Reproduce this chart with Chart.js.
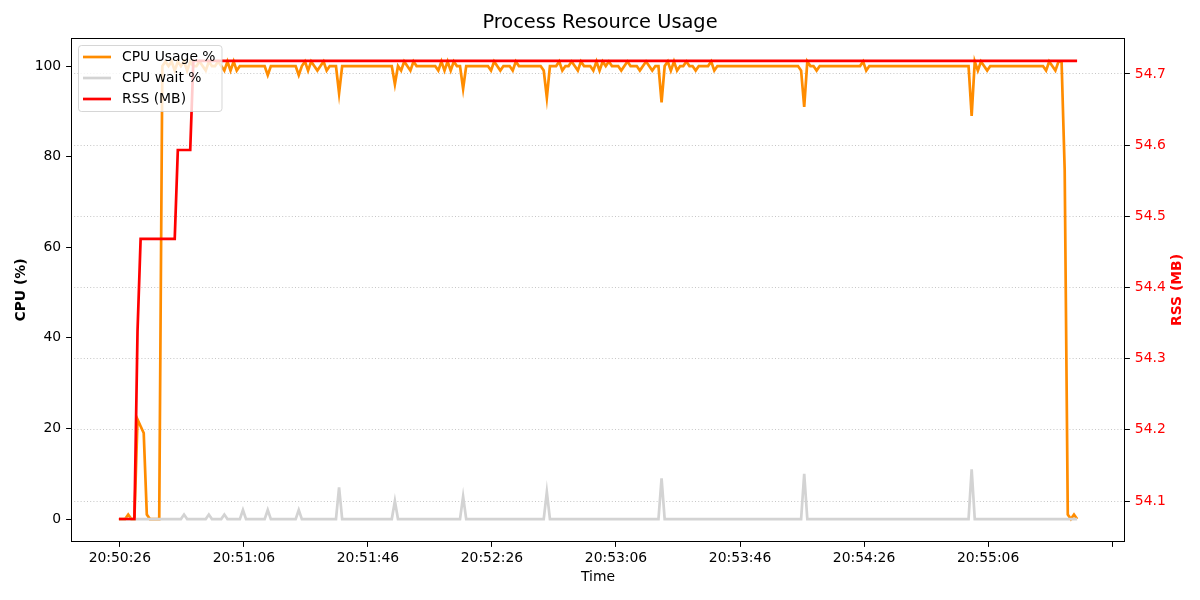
<!DOCTYPE html>
<html>
<head>
<meta charset="utf-8">
<script src="https://cdn.jsdelivr.net/npm/chart.js@4.4.0/dist/chart.umd.min.js"></script>
<style>
html,body{margin:0;padding:0;background:#fff;}
#wrap{width:1200px;height:600px;position:relative;}
</style>
</head>
<body>
<div id="wrap"><canvas id="c" width="1200" height="600"></canvas></div>
<script>
// ---------------- DATA ----------------
const chartTitle = 'Process Resource Usage';
const seriesLabels = ['CPU Usage %', 'CPU wait %', 'RSS (MB)'];

// sampling: one sample per second, first sample ~0.3 s before 20:50:26
const firstSampleSec = -0.3;
const sampleStepSec = 1;

// x-axis ticks (seconds after 20:50:26) and their labels
const timeTickSeconds = [0, 40, 80, 120, 160, 200, 240, 280, 320];
const timeLabels = ['20:50:26', '20:51:06', '20:51:46', '20:52:26', '20:53:06', '20:53:46', '20:54:26', '20:55:06', ''];

const cpuTicks = [0, 20, 40, 60, 80, 100];
const rssTicks = [54.1, 54.2, 54.3, 54.4, 54.5, 54.6, 54.7];

const cpu = [
  0,0,0,1,0,0,22,20.5,19,1,
  0,0,0,0,100,101,100,101,99,101,
  100,101,99,101,100,100,101,100,99,101,
  100,100,101,100,99,101,99,101,99,100,
  100,100,100,100,100,100,100,100,98,100,
  100,100,100,100,100,100,100,100,98,100,
  101,99,101,100,99,100,101,99,100,100,
  100,94,100,100,100,100,100,100,100,100,
  100,100,100,100,100,100,100,100,100,96,
  100,99,101,100,99,101,100,100,100,100,
  100,100,100,99,101,99,101,99,101,100,
  100,95,100,100,100,100,100,100,100,100,
  99,101,100,99,100,100,100,99,101,100,
  100,100,100,100,100,100,100,99,93,100,
  100,100,101,99,100,100,101,100,99,101,
  100,100,100,99,101,99,101,100,101,100,
  100,100,99,100,101,100,100,100,99,100,
  101,100,99,100,100,92,100,101,99,101,
  99,100,100,101,100,100,99,100,100,100,
  100,101,99,100,100,100,100,100,100,100,
  100,100,100,100,100,100,100,100,100,100,
  100,100,100,100,100,100,100,100,100,100,
  99,91,101,100,100,99,100,100,100,100,
  100,100,100,100,100,100,100,100,100,100,
  101,99,100,100,100,100,100,100,100,100,
  100,100,100,100,100,100,100,100,100,100,
  100,100,100,100,100,100,100,100,100,100,
  100,100,100,100,100,89,101,99,101,100,
  99,100,100,100,100,100,100,100,100,100,
  100,100,100,100,100,100,100,100,100,99,
  101,100,99,101,101,77,1,0,1,0
];

const cpuWait = [
  0,0,0,0,0,0,0,0,0,0,
  0,0,0,0,0,0,0,0,0,0,
  0,1,0,0,0,0,0,0,0,1,
  0,0,0,0,1,0,0,0,0,0,
  2,0,0,0,0,0,0,0,2,0,
  0,0,0,0,0,0,0,0,2,0,
  0,0,0,0,0,0,0,0,0,0,
  0,7,0,0,0,0,0,0,0,0,
  0,0,0,0,0,0,0,0,0,4,
  0,0,0,0,0,0,0,0,0,0,
  0,0,0,0,0,0,0,0,0,0,
  0,5,0,0,0,0,0,0,0,0,
  0,0,0,0,0,0,0,0,0,0,
  0,0,0,0,0,0,0,0,6,0,
  0,0,0,0,0,0,0,0,0,0,
  0,0,0,0,0,0,0,0,0,0,
  0,0,0,0,0,0,0,0,0,0,
  0,0,0,0,0,9,0,0,0,0,
  0,0,0,0,0,0,0,0,0,0,
  0,0,0,0,0,0,0,0,0,0,
  0,0,0,0,0,0,0,0,0,0,
  0,0,0,0,0,0,0,0,0,0,
  0,10,0,0,0,0,0,0,0,0,
  0,0,0,0,0,0,0,0,0,0,
  0,0,0,0,0,0,0,0,0,0,
  0,0,0,0,0,0,0,0,0,0,
  0,0,0,0,0,0,0,0,0,0,
  0,0,0,0,0,11,0,0,0,0,
  0,0,0,0,0,0,0,0,0,0,
  0,0,0,0,0,0,0,0,0,0,
  0,0,0,0,0,0,0,0,0,0
];

const rss = [
  54.0747,54.0747,54.0747,54.0747,54.0747,54.0747,54.338,54.4682,54.4682,54.4682,
  54.4682,54.4682,54.4682,54.4682,54.4682,54.4682,54.4682,54.4682,54.4682,54.5932,
  54.5932,54.5932,54.5932,54.5932,54.7183,54.7183,54.7183,54.7183,54.7183,54.7183,
  54.7183,54.7183,54.7183,54.7183,54.7183,54.7183,54.7183,54.7183,54.7183,54.7183,
  54.7183,54.7183,54.7183,54.7183,54.7183,54.7183,54.7183,54.7183,54.7183,54.7183,
  54.7183,54.7183,54.7183,54.7183,54.7183,54.7183,54.7183,54.7183,54.7183,54.7183,
  54.7183,54.7183,54.7183,54.7183,54.7183,54.7183,54.7183,54.7183,54.7183,54.7183,
  54.7183,54.7183,54.7183,54.7183,54.7183,54.7183,54.7183,54.7183,54.7183,54.7183,
  54.7183,54.7183,54.7183,54.7183,54.7183,54.7183,54.7183,54.7183,54.7183,54.7183,
  54.7183,54.7183,54.7183,54.7183,54.7183,54.7183,54.7183,54.7183,54.7183,54.7183,
  54.7183,54.7183,54.7183,54.7183,54.7183,54.7183,54.7183,54.7183,54.7183,54.7183,
  54.7183,54.7183,54.7183,54.7183,54.7183,54.7183,54.7183,54.7183,54.7183,54.7183,
  54.7183,54.7183,54.7183,54.7183,54.7183,54.7183,54.7183,54.7183,54.7183,54.7183,
  54.7183,54.7183,54.7183,54.7183,54.7183,54.7183,54.7183,54.7183,54.7183,54.7183,
  54.7183,54.7183,54.7183,54.7183,54.7183,54.7183,54.7183,54.7183,54.7183,54.7183,
  54.7183,54.7183,54.7183,54.7183,54.7183,54.7183,54.7183,54.7183,54.7183,54.7183,
  54.7183,54.7183,54.7183,54.7183,54.7183,54.7183,54.7183,54.7183,54.7183,54.7183,
  54.7183,54.7183,54.7183,54.7183,54.7183,54.7183,54.7183,54.7183,54.7183,54.7183,
  54.7183,54.7183,54.7183,54.7183,54.7183,54.7183,54.7183,54.7183,54.7183,54.7183,
  54.7183,54.7183,54.7183,54.7183,54.7183,54.7183,54.7183,54.7183,54.7183,54.7183,
  54.7183,54.7183,54.7183,54.7183,54.7183,54.7183,54.7183,54.7183,54.7183,54.7183,
  54.7183,54.7183,54.7183,54.7183,54.7183,54.7183,54.7183,54.7183,54.7183,54.7183,
  54.7183,54.7183,54.7183,54.7183,54.7183,54.7183,54.7183,54.7183,54.7183,54.7183,
  54.7183,54.7183,54.7183,54.7183,54.7183,54.7183,54.7183,54.7183,54.7183,54.7183,
  54.7183,54.7183,54.7183,54.7183,54.7183,54.7183,54.7183,54.7183,54.7183,54.7183,
  54.7183,54.7183,54.7183,54.7183,54.7183,54.7183,54.7183,54.7183,54.7183,54.7183,
  54.7183,54.7183,54.7183,54.7183,54.7183,54.7183,54.7183,54.7183,54.7183,54.7183,
  54.7183,54.7183,54.7183,54.7183,54.7183,54.7183,54.7183,54.7183,54.7183,54.7183,
  54.7183,54.7183,54.7183,54.7183,54.7183,54.7183,54.7183,54.7183,54.7183,54.7183,
  54.7183,54.7183,54.7183,54.7183,54.7183,54.7183,54.7183,54.7183,54.7183,54.7183,
  54.7183,54.7183,54.7183,54.7183,54.7183,54.7183,54.7183,54.7183,54.7183,54.7183
];

// ---------------- CHART ----------------
const FONT = "'DejaVu Sans', sans-serif";
Chart.defaults.font.family = FONT;
Chart.defaults.font.size = 13.9;
Chart.defaults.color = '#000';

const xs = cpu.map((_, i) => firstSampleSec + i * sampleStepSec);
const toPts = arr => arr.map((v, i) => ({ x: xs[i], y: v }));

const colors = ['#ff8c00', '#d3d3d3', '#ff0000'];

const overlay = {
  id: 'overlay',
  afterDraw(chart) {
    const ctx = chart.ctx;
    const a = chart.chartArea;
    ctx.save();
    // frame
    ctx.strokeStyle = '#000';
    ctx.lineWidth = 1;
    ctx.strokeRect(Math.round(a.left) + 0.5, Math.round(a.top) + 0.5,
                   Math.round(a.right - a.left) - 1, Math.round(a.bottom - a.top) - 1);
    // right axis title
    ctx.save();
    ctx.translate(1177, (a.top + a.bottom) / 2);
    ctx.rotate(-Math.PI / 2);
    ctx.fillStyle = '#ff0000';
    ctx.font = 'bold 13.9px ' + FONT;
    ctx.textAlign = 'center';
    ctx.textBaseline = 'middle';
    ctx.fillText(seriesLabels[2], 0, 0);
    ctx.restore();
    // legend
    const bx = 78.5, by = 45.5, bw = 143.5, bh = 66, r = 3;
    ctx.beginPath();
    ctx.moveTo(bx + r, by);
    ctx.lineTo(bx + bw - r, by);
    ctx.quadraticCurveTo(bx + bw, by, bx + bw, by + r);
    ctx.lineTo(bx + bw, by + bh - r);
    ctx.quadraticCurveTo(bx + bw, by + bh, bx + bw - r, by + bh);
    ctx.lineTo(bx + r, by + bh);
    ctx.quadraticCurveTo(bx, by + bh, bx, by + bh - r);
    ctx.lineTo(bx, by + r);
    ctx.quadraticCurveTo(bx, by, bx + r, by);
    ctx.closePath();
    ctx.fillStyle = 'rgba(255,255,255,0.8)';
    ctx.fill();
    ctx.strokeStyle = 'rgba(204,204,204,0.8)';
    ctx.lineWidth = 1;
    ctx.stroke();
    ctx.font = '13.9px ' + FONT;
    ctx.textAlign = 'left';
    ctx.textBaseline = 'middle';
    chart.data.datasets.forEach((ds, i) => {
      const y = 57 + i * 21;
      ctx.strokeStyle = ds.borderColor;
      ctx.lineWidth = 2.7;
      ctx.beginPath();
      ctx.moveTo(83, y);
      ctx.lineTo(111, y);
      ctx.stroke();
      ctx.fillStyle = '#000';
      ctx.fillText(ds.label, 122, y + 0.5);
    });
    ctx.restore();
  }
};

new Chart(document.getElementById('c'), {
  type: 'line',
  data: {
    datasets: [
      { label: seriesLabels[0], data: toPts(cpu), borderColor: colors[0], borderWidth: 2.7, pointRadius: 0, tension: 0, yAxisID: 'y', order: 3 },
      { label: seriesLabels[1], data: toPts(cpuWait), borderColor: colors[1], borderWidth: 2.7, pointRadius: 0, tension: 0, yAxisID: 'y', order: 2 },
      { label: seriesLabels[2], data: toPts(rss), borderColor: colors[2], borderWidth: 2.7, pointRadius: 0, tension: 0, yAxisID: 'y1', order: 1 }
    ]
  },
  options: {
    responsive: false,
    animation: false,
    events: [],
    layout: { padding: { left: 0, right: 0, top: 0, bottom: 0 } },
    plugins: {
      legend: { display: false },
      tooltip: { enabled: false },
      title: {
        display: true, text: chartTitle, color: '#000',
        font: { size: 19.4, weight: 'normal', family: FONT, lineHeight: 1.2 },
        padding: { top: 11, bottom: 3.7 }
      }
    },
    scales: {
      x: {
        type: 'linear', position: 'bottom', min: -15.75, max: 324.15,
        afterBuildTicks: s => { s.ticks = timeTickSeconds.map(v => ({ value: v })); },
        afterFit: s => { s.height = 58; },
        ticks: { autoSkip: false, maxRotation: 0, padding: 3.5, color: '#000',
                 callback: (v, i) => timeLabels[i] },
        grid: { drawOnChartArea: false, drawTicks: true, tickLength: 4.9, tickColor: '#000', tickWidth: 1, tickBorderDash: [] },
        border: { display: false },
        title: { display: true, text: 'Time', color: '#000', font: { size: 13.9 }, padding: { top: 0, bottom: 14.7 } }
      },
      y: {
        type: 'linear', position: 'left', min: -5.06, max: 106.2,
        afterBuildTicks: s => { s.ticks = cpuTicks.map(v => ({ value: v })); },
        afterFit: s => { s.width = 71; },
        ticks: { padding: 4.9, color: '#000', callback: v => String(v) },
        grid: { drawOnChartArea: false, drawTicks: true, tickLength: 4.9, tickColor: '#000', tickWidth: 1, tickBorderDash: [] },
        border: { display: false },
        title: { display: true, text: 'CPU (%)', color: '#000', font: { size: 13.9, weight: 'bold' }, padding: { top: 12.7, bottom: 0 } }
      },
      y1: {
        type: 'linear', position: 'right', min: 54.0424, max: 54.7506,
        afterBuildTicks: s => { s.ticks = rssTicks.map(v => ({ value: v })); },
        afterFit: s => { s.width = 75; },
        ticks: { padding: 4.9, color: '#ff0000', callback: v => Number(v).toFixed(1) },
        grid: { drawOnChartArea: true, drawTicks: true, tickLength: 4.9, tickColor: '#000', tickWidth: 1,
                color: 'rgba(170,170,170,0.75)', lineWidth: 0.9, tickBorderDash: [] },
        border: { display: false, dash: [1, 2.2] },
        title: { display: false }
      }
    }
  },
  plugins: [overlay]
});
</script>
</body>
</html>
